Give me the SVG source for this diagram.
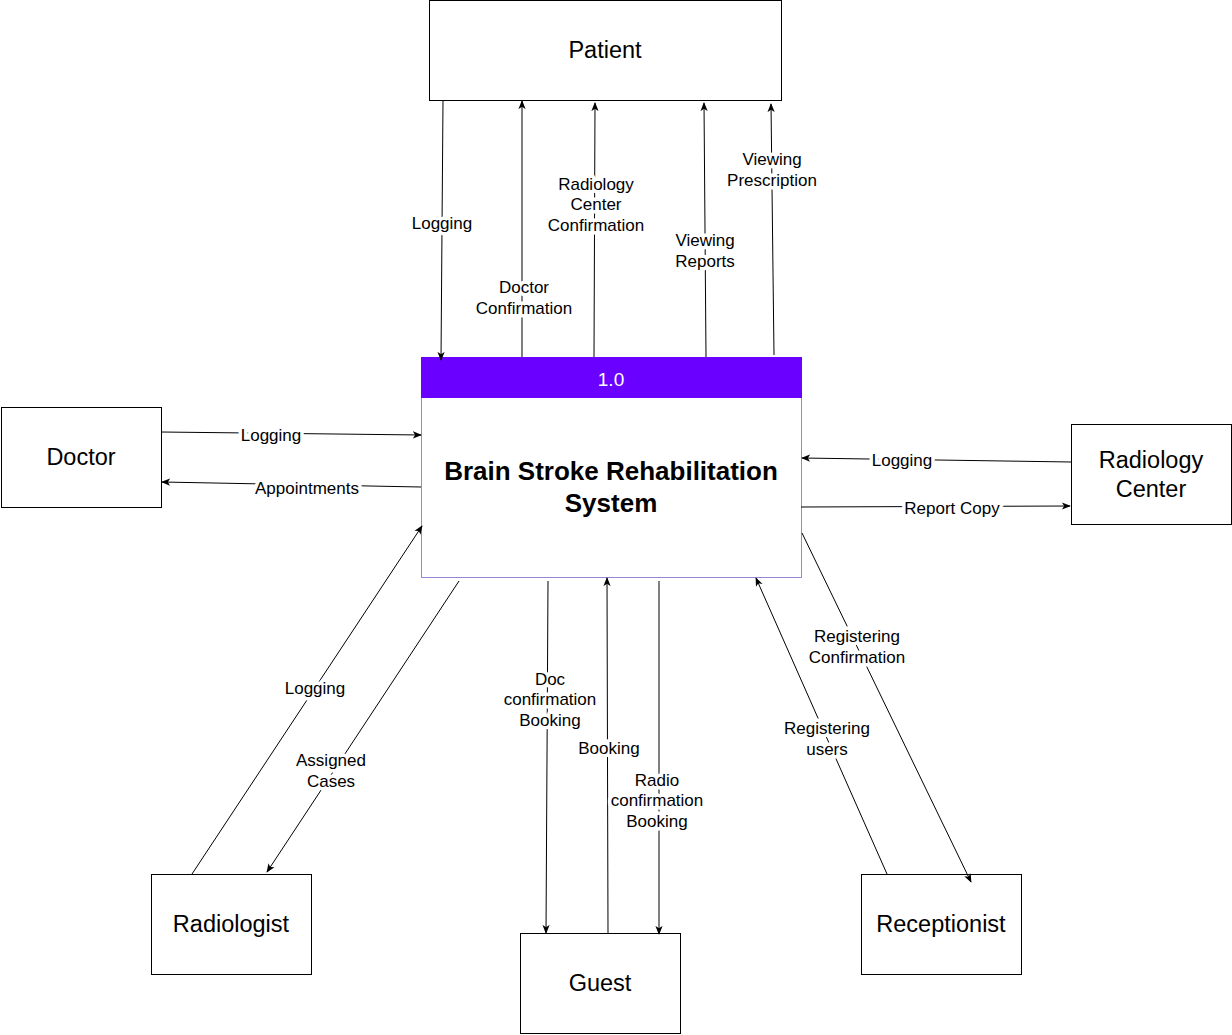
<svg xmlns="http://www.w3.org/2000/svg" width="1232" height="1035" viewBox="0 0 1232 1035">
<style>
.box{fill:#fff;stroke:#000;stroke-width:1}
.nt{font-family:"Liberation Sans",Arial,sans-serif;font-size:23.5px;fill:#000;text-anchor:middle}
.c{fill:none;stroke:#000;stroke-width:1}
.lb{font-family:"Liberation Sans",Arial,sans-serif;font-size:17px;fill:#000;text-anchor:middle;stroke:#fff;stroke-width:7px;paint-order:stroke;stroke-linejoin:round}
</style>
<defs>
<marker id="ah" viewBox="0 0 10 10" refX="9" refY="5" markerWidth="9" markerHeight="9" markerUnits="userSpaceOnUse" orient="auto">
<path d="M0,1 L10,5 L0,9 L2.5,5 z" fill="#000"/>
</marker>
</defs>
<rect width="1232" height="1035" fill="#fff"/>
<g id="system">
<rect x="421.5" y="397.5" width="380" height="180" fill="#fff" stroke="#9a86d6" stroke-width="1"/>
<rect x="421.5" y="357.5" width="380" height="40" fill="#6a00ff" stroke="#6a00ff" stroke-width="1"/>
<text x="611" y="386" font-family="Liberation Sans,Arial,sans-serif" font-size="19px" fill="#fff" text-anchor="middle">1.0</text>
<text x="611" y="480" font-family="Liberation Sans,Arial,sans-serif" font-size="26px" font-weight="bold" fill="#000" text-anchor="middle">Brain Stroke Rehabilitation</text>
<text x="611" y="512" font-family="Liberation Sans,Arial,sans-serif" font-size="26px" font-weight="bold" fill="#000" text-anchor="middle">System</text>
</g>
<g id="patient">
<rect class="box" x="429.5" y="0.5" width="352" height="100"/>
<text class="nt" x="605" y="58">Patient</text>
</g>
<g id="doctor">
<rect class="box" x="1.5" y="407.5" width="160" height="100"/>
<text class="nt" x="81" y="465">Doctor</text>
</g>
<g id="radiology-center">
<rect class="box" x="1071.5" y="424.5" width="160" height="100"/>
<text class="nt" x="1151" y="468">Radiology</text>
<text class="nt" x="1151" y="497">Center</text>
</g>
<g id="radiologist">
<rect class="box" x="151.5" y="874.5" width="160" height="100"/>
<text class="nt" x="231" y="932">Radiologist</text>
</g>
<g id="guest">
<rect class="box" x="520.5" y="933.5" width="160" height="100"/>
<text class="nt" x="600" y="991">Guest</text>
</g>
<g id="receptionist">
<rect class="box" x="861.5" y="874.5" width="160" height="100"/>
<text class="nt" x="941" y="932">Receptionist</text>
</g>
<g id="connectors">
<path class="c" d="M443,100 L441,360" marker-end="url(#ah)"/>
<path class="c" d="M522,357 L522,101" marker-end="url(#ah)"/>
<path class="c" d="M594,357 L595,103" marker-end="url(#ah)"/>
<path class="c" d="M706,357 L704,103" marker-end="url(#ah)"/>
<path class="c" d="M774,355 L771,104" marker-end="url(#ah)"/>
<path class="c" d="M161,432 L421,435" marker-end="url(#ah)"/>
<path class="c" d="M421,487 L162,482" marker-end="url(#ah)"/>
<path class="c" d="M1071,462 L802,458" marker-end="url(#ah)"/>
<path class="c" d="M801,507 L1070,506" marker-end="url(#ah)"/>
<path class="c" d="M192,874 L422,526" marker-end="url(#ah)"/>
<path class="c" d="M459,581 L267,872" marker-end="url(#ah)"/>
<path class="c" d="M548,581 L546,933" marker-end="url(#ah)"/>
<path class="c" d="M608,933 L607,578" marker-end="url(#ah)"/>
<path class="c" d="M659,581 L659,934" marker-end="url(#ah)"/>
<path class="c" d="M887,874 L756,578" marker-end="url(#ah)"/>
<path class="c" d="M802,533 L971,882" marker-end="url(#ah)"/>
<text class="lb" x="442" y="229">Logging</text>
<text class="lb" x="524" y="293">Doctor</text>
<text class="lb" x="524" y="314">Confirmation</text>
<text class="lb" x="596" y="190">Radiology</text>
<text class="lb" x="596" y="210">Center</text>
<text class="lb" x="596" y="231">Confirmation</text>
<text class="lb" x="705" y="246">Viewing</text>
<text class="lb" x="705" y="267">Reports</text>
<text class="lb" x="772" y="165">Viewing</text>
<text class="lb" x="772" y="186">Prescription</text>
<text class="lb" x="271" y="441">Logging</text>
<text class="lb" x="307" y="494">Appointments</text>
<text class="lb" x="902" y="466">Logging</text>
<text class="lb" x="952" y="514">Report Copy</text>
<text class="lb" x="315" y="694">Logging</text>
<text class="lb" x="331" y="766">Assigned</text>
<text class="lb" x="331" y="787">Cases</text>
<text class="lb" x="550" y="685">Doc</text>
<text class="lb" x="550" y="705">confirmation</text>
<text class="lb" x="550" y="726">Booking</text>
<text class="lb" x="609" y="754">Booking</text>
<text class="lb" x="657" y="786">Radio</text>
<text class="lb" x="657" y="806">confirmation</text>
<text class="lb" x="657" y="827">Booking</text>
<text class="lb" x="827" y="734">Registering</text>
<text class="lb" x="827" y="755">users</text>
<text class="lb" x="857" y="642">Registering</text>
<text class="lb" x="857" y="663">Confirmation</text>
</g>
</svg>
